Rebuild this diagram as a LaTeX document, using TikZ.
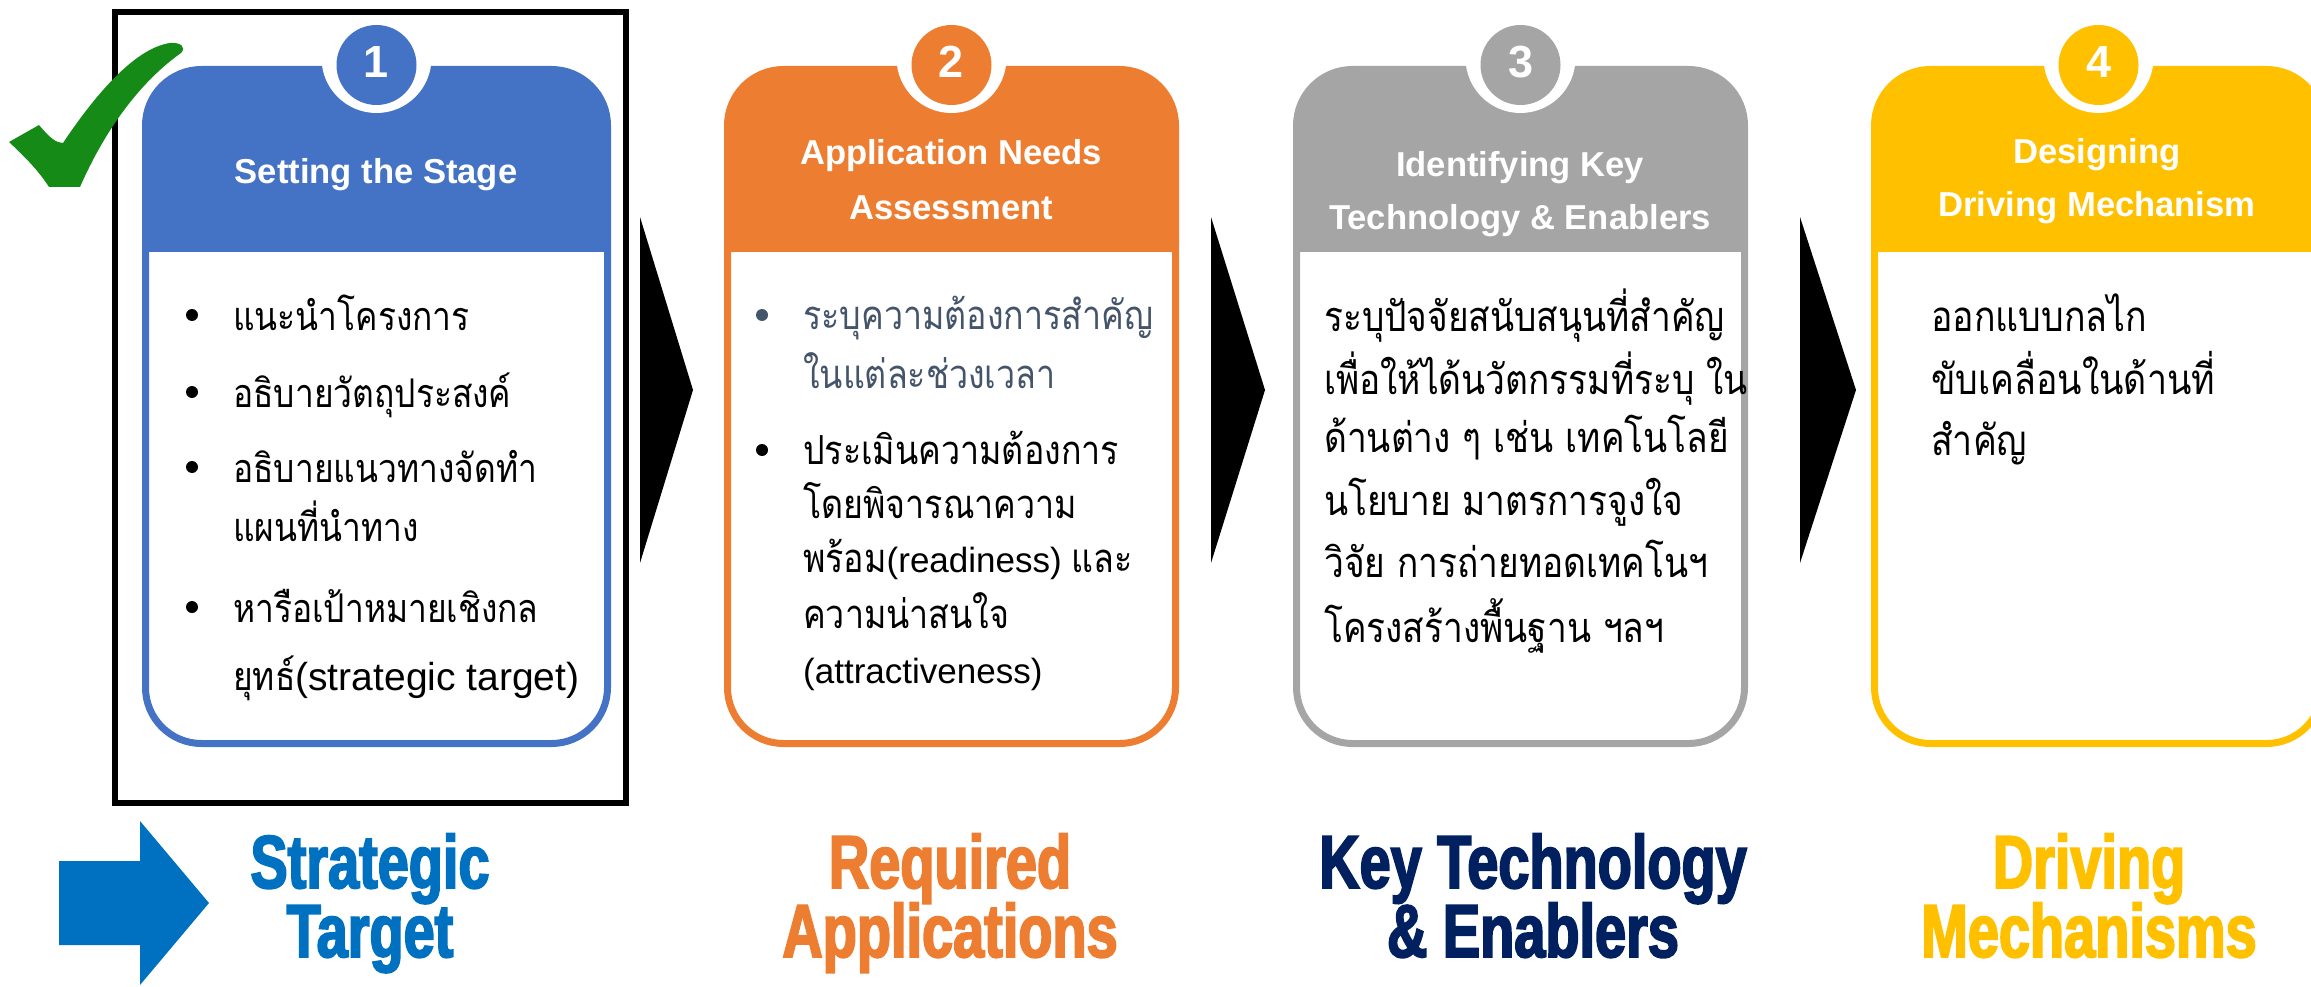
\documentclass[tikz,border=0pt]{standalone}
\usepackage{fontspec}
\setmainfont{Liberation Sans}
\newfontfamily\thaifont[Script=Thai,FakeStretch=0.85]{Loma}
\newfontfamily\headfont{Liberation Sans Bold}
\newfontfamily\heavyfont[FakeStretch=0.745,FakeBold=2.5]{Liberation Sans Bold}

\definecolor{cblue}{HTML}{4472C4}
\definecolor{corange}{HTML}{ED7D31}
\definecolor{cgray}{HTML}{A5A5A5}
\definecolor{cyellow}{HTML}{FFC000}
\definecolor{arrowblue}{HTML}{0070C0}
\definecolor{navy}{HTML}{002060}
\definecolor{slate}{HTML}{44546A}
\definecolor{checkgreen}{HTML}{168A16}

% one stage card: left, right, colour, number, badge name
\newcommand\stagecard[5]{%
  \begin{scope}
    \clip[rounded corners=56pt] ({#1+3.5},69.5) rectangle ({#2-3.5},743.5);
    \fill[#3] (#1,60) rectangle (#2,252);
  \end{scope}
  \draw[#3, line width=7pt, rounded corners=56pt] ({#1+3.5},69.5) rectangle ({#2-3.5},743.5);
  \fill[white] ({(#1+#2)/2},58) circle (55pt);
  \node[badge, fill=#3] (#5) at ({(#1+#2)/2},65) {\raisebox{6pt}{#4}};
}

\begin{document}
\begin{tikzpicture}[x=1pt,y=-1pt,
  badge/.style={circle, minimum size=80pt, inner sep=0pt, text=white,
    font=\headfont\fontsize{45}{50}\selectfont},
  head/.style={anchor=base, inner sep=0pt, text=white,
    font=\headfont\fontsize{34.6}{40}\selectfont},
  bodyA/.style={anchor=base west, inner sep=0pt, font=\thaifont\fontsize{39.5}{48}\selectfont},
  bodyB/.style={anchor=base west, inner sep=0pt, font=\thaifont\fontsize{40}{48}\selectfont},
  bodyC/.style={anchor=base west, inner sep=0pt, font=\thaifont\fontsize{41.5}{50}\selectfont},
  bodyD/.style={anchor=base west, inner sep=0pt, font=\thaifont\fontsize{42}{50}\selectfont},
  bigword/.style={anchor=base, inner sep=0pt, font=\heavyfont\fontsize{75}{80}\selectfont},
  chevron/.style={fill=black},
  dot/.style={circle, fill, inner sep=0pt, minimum size=12pt}
]
\useasboundingbox (0,0) rectangle (2311,987);
\clip (0,0) rectangle (2311,987);

% ---- the four stage cards ----
\stagecard{142}{611}{cblue}{1}{n1}
\stagecard{724}{1179}{corange}{2}{n2}
\stagecard{1293}{1748}{cgray}{3}{n3}
\stagecard{1871}{2326}{cyellow}{4}{n4}

% ---- card headings ----
\node[head] (h1) at (376,184) {Setting the Stage};
\node[head] (h2a) at (951,165) {Application Needs};
\node[head] (h2b) at (951,220) {Assessment};
\node[head] (h3a) at (1520,177) {Identifying Key};
\node[head] (h3b) at (1520,230) {Technology \& Enablers};
\node[head] (h4a) at (2097,164) {Designing};
\node[head] (h4b) at (2097,217) {Driving Mechanism};

% ---- card 1 body ----
\node[dot] (b11) at (192,315) {};
\node[dot] (b12) at (192,392) {};
\node[dot] (b13) at (192,467) {};
\node[dot] (b14) at (192,607) {};
\node[bodyA] (t11) at (233,330) {แนะนำโครงการ};
\node[bodyA] (t12) at (233,407) {อธิบายวัตถุประสงค์};
\node[bodyA] (t13) at (233,482) {อธิบายแนวทางจัดทำ};
\node[bodyA] (t14) at (233,541) {แผนที่นำทาง};
\node[bodyA] (t15) at (233,622) {หารือเป้าหมายเชิงกล};
\node[bodyA] (t16) at (233,690) {ยุทธ์{\rmfamily\fontsize{39}{48}\selectfont(strategic target)}};

% ---- card 2 body ----
\node[dot, slate] (b21) at (762,315) {};
\node[dot] (b22) at (762,450) {};
\node[bodyB, text=slate] (t21) at (803,329) {ระบุความต้องการสำคัญ};
\node[bodyB, text=slate] (t22) at (803,388) {ในแต่ละช่วงเวลา};
\node[bodyB] (t23) at (803,464) {ประเมินความต้องการ};
\node[bodyB] (t24) at (803,518) {โดยพิจารณาความ};
\node[bodyB] (t25) at (803,572) {พร้อม{\rmfamily\fontsize{35}{44}\selectfont(readiness) }และ};
\node[bodyB] (t26) at (803,628) {ความน่าสนใจ};
\node[bodyB] (t27) at (803,683) {{\rmfamily\fontsize{35}{44}\selectfont(attractiveness)}};

% ---- card 3 body ----
\node[bodyC] (t31) at (1324,331) {ระบุปัจจัยสนับสนุนที่สำคัญ};
\node[bodyC] (t32) at (1324,394) {เพื่อให้ได้นวัตกรรมที่ระบุ ใน};
\node[bodyC] (t33) at (1324,452) {ด้านต่าง ๆ เช่น เทคโนโลยี};
\node[bodyC] (t34) at (1324,515) {นโยบาย มาตรการจูงใจ};
\node[bodyC] (t35) at (1324,577) {วิจัย การถ่ายทอดเทคโนฯ};
\node[bodyC] (t36) at (1324,642) {โครงสร้างพื้นฐาน ฯลฯ};

% ---- card 4 body ----
\node[bodyD] (t41) at (1931,331) {ออกแบบกลไก};
\node[bodyD] (t42) at (1931,394) {ขับเคลื่อนในด้านที่};
\node[bodyD] (t43) at (1931,455) {สำคัญ};

% ---- chevrons between the cards ----
\fill[chevron] (640,217) -- (693,390) -- (640,563) -- cycle;
\fill[chevron] (1211,217) -- (1265,390) -- (1211,563) -- cycle;
\fill[chevron] (1800,217) -- (1856,390) -- (1800,563) -- cycle;

% ---- highlight frame round the first stage ----
\draw[line width=6pt] (115,12) rectangle (626,803);

% ---- outcome labels ----
\fill[arrowblue] (59,861) -- (140,861) -- (140,821) -- (209,903) -- (140,985) -- (140,945) -- (59,945) -- cycle;
\node[bigword, text=arrowblue] (o1a) at (370,888) {Strategic};
\node[bigword, text=arrowblue] (o1b) at (370,957) {Target};
\node[bigword, text=corange] (o2a) at (950,888) {Required};
\node[bigword, text=corange] (o2b) at (950,957) {Applications};
\node[bigword, text=navy] (o3a) at (1533,888) {Key Technology};
\node[bigword, text=navy] (o3b) at (1533,957) {\& Enablers};
\node[bigword, text=cyellow] (o4a) at (2089,888) {Driving};
\node[bigword, text=cyellow] (o4b) at (2089,957) {Mechanisms};

% ---- tick mark ----
\fill[checkgreen] (9,142) -- (39,125) .. controls (50,138) and (56,143) .. (63,143)
  .. controls (95,95) and (135,48) .. (170,43) .. controls (180,42) and (187,47) .. (181,53)
  .. controls (140,82) and (105,130) .. (80,187) -- (49,187)
  .. controls (38,170) and (25,157) .. (9,142) -- cycle;
\end{tikzpicture}
\end{document}
